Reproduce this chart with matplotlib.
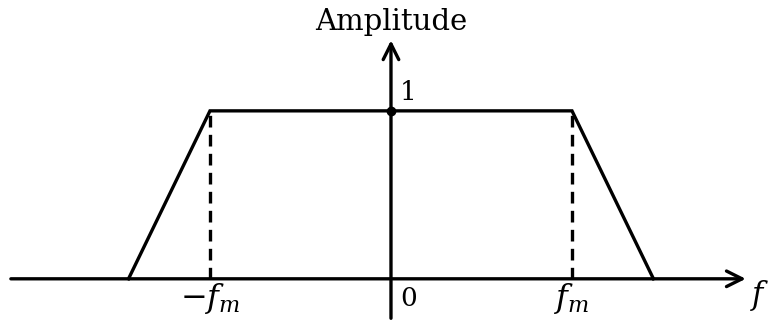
import matplotlib.pyplot as plt

# spectrum outline (f in units of f_m)
freq = [-1.45, -1.0, 1.0, 1.45]
amplitude = [0.0, 1.0, 1.0, 0.0]
band_edges = [-1.0, 1.0]
edge_labels = [r'$-f_m$', r'$f_m$']

plt.rcParams['mathtext.fontset'] = 'dejavuserif'

fig = plt.figure(figsize=(7.74, 3.25), dpi=100)
ax = fig.add_axes([0, 0, 1, 1])
ax.set_xlim(-2.16, 2.116)
ax.set_ylim(-0.275, 1.66)
ax.axis('off')

lw = 2.4

# axes with open arrow heads
ax.annotate('', xy=(1.96, 0), xytext=(-2.1, 0),
            arrowprops=dict(arrowstyle='->', lw=lw, color='black',
                            mutation_scale=28, shrinkA=0, shrinkB=0))
ax.annotate('', xy=(0, 1.42), xytext=(0, -0.235),
            arrowprops=dict(arrowstyle='->', lw=lw, color='black',
                            mutation_scale=28, shrinkA=0, shrinkB=0))

# trapezoid
ax.plot(freq, amplitude, color='black', lw=lw, solid_joinstyle='miter')

# dashed drops at the band edges
for fe in band_edges:
    ax.plot([fe, fe], [0, 1], color='black', lw=lw, linestyle=(0, (3.5, 2.2)))

ax.plot(0, 1, 'o', color='black', ms=6)

# labels
ax.text(0, 1.53, 'Amplitude', family='DejaVu Serif', fontsize=21,
        ha='center', va='center', fontweight='medium')
ax.text(0.05, 1.11, '1', family='DejaVu Serif', fontsize=19,
        ha='left', va='center')
ax.text(0.05, -0.12, '0', family='DejaVu Serif', fontsize=19,
        ha='left', va='center')
for fe, lab in zip(band_edges, edge_labels):
    ax.text(fe, -0.12, lab, fontsize=23, ha='center', va='center')
ax.text(2.04, -0.1, r'$f$', fontsize=22, ha='center', va='center')

fig.savefig('out.png', dpi=100)
